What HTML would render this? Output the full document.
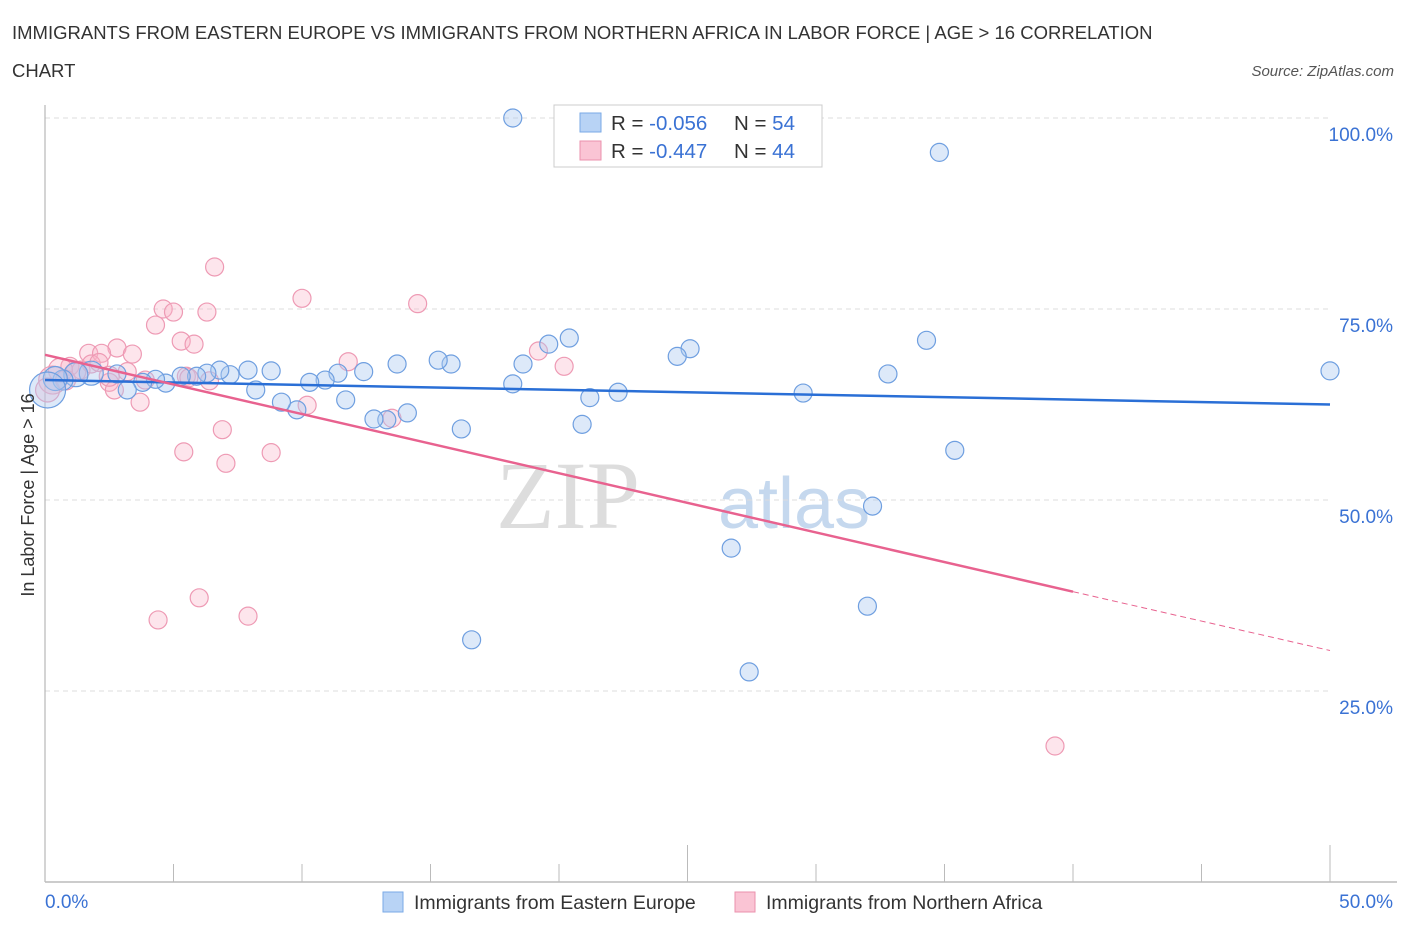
<!DOCTYPE html>
<html><head><meta charset="utf-8"><style>
body{margin:0;background:#fff;font-family:"Liberation Sans",sans-serif}
svg{display:block}
</style></head><body>
<svg id="c" width="1406" height="930" xmlns="http://www.w3.org/2000/svg">
<text x="12" y="39" font-size="18.5" fill="#333">IMMIGRANTS FROM EASTERN EUROPE VS IMMIGRANTS FROM NORTHERN AFRICA IN LABOR FORCE | AGE &gt; 16 CORRELATION</text>
<text x="12" y="77" font-size="18.5" fill="#333">CHART</text>
<text x="1394" y="76" font-size="15" fill="#555" font-style="italic" text-anchor="end">Source: ZipAtlas.com</text>
<text x="640" y="528" font-size="96" fill="#ddd" font-family="Liberation Serif,serif" text-anchor="end">ZIP</text>
<text x="718" y="528" font-size="72" fill="#c5d8ee">atlas</text>
<g id="grid"></g><g id="pts"></g><g id="lines"></g>
<text transform="translate(34,495) rotate(-90)" font-size="18" fill="#333" text-anchor="middle">In Labor Force | Age &gt; 16</text>
<g>
<rect x="554" y="105" width="268" height="62" fill="#fff" stroke="#ccc"/>
<rect x="580" y="113" width="21" height="19" fill="#b8d3f5" stroke="#7aa9e6"/>
<rect x="580" y="141" width="21" height="19" fill="#fac4d4" stroke="#eb91ad"/>
<text x="611" y="130" font-size="20.5" fill="#333">R = <tspan fill="#3a72d4">-0.056</tspan></text>
<text x="734" y="130" font-size="20.5" fill="#333">N = <tspan fill="#3a72d4">54</tspan></text>
<text x="611" y="158" font-size="20.5" fill="#333">R = <tspan fill="#3a72d4">-0.447</tspan></text>
<text x="734" y="158" font-size="20.5" fill="#333">N = <tspan fill="#3a72d4">44</tspan></text>
</g>
<g>
<rect x="383" y="892" width="20" height="20" fill="#b8d3f5" stroke="#7aa9e6"/>
<text x="414" y="909" font-size="19.5" fill="#333">Immigrants from Eastern Europe</text>
<rect x="735" y="892" width="20" height="20" fill="#fac4d4" stroke="#eb91ad"/>
<text x="766" y="909" font-size="19.5" fill="#333">Immigrants from Northern Africa</text>
</g>
</svg>
<script>
const blueX=[18.2,27.2,34.8,50,34.3,32.8,35.4,32.2,26.7,32,27.4,16.6,29.5,25.1,24.6,22.3,21.2,20.9,20.4,19.6,18.6,18.2,16.2,15.8,15.3,14.1,13.7,13.3,12.8,12.4,11.7,11.4,10.9,10.3,9.8,9.2,8.8,8.2,7.9,7.2,6.8,6.3,5.9,5.3,4.7,4.3,3.8,3.2,2.8,1.8,1.2,0.7,0.4,0.1];
const blueY=[100,100,95.5,66.9,70.9,66.5,56.5,49.2,43.7,36.1,27.5,31.7,64,69.8,68.8,64.1,63.4,59.9,71.2,70.4,67.8,65.2,59.3,67.8,68.3,61.4,67.8,60.5,60.6,66.8,63.1,66.6,65.7,65.4,61.8,62.8,66.9,64.4,67,66.4,67,66.6,66.2,66.2,65.3,65.8,65.4,64.4,66.5,66.6,66.4,65.7,65.9,64.4];
const blueR=[9,9,9,9,9,9,9,9,9,9,9,9,9,9,9,9,9,9,9,9,9,9,9,9,9,9,9,9,9,9,9,9,9,9,9,9,9,9,9,9,9,9,9,9,9,9,9,9,9,12,12,10,12,18];
const pinkX=[6.6,10,14.5,4.6,5,6.3,4.3,5.3,5.8,2.8,3.4,1.7,2.2,0.97,1.4,1.8,2.1,2.5,2.7,3.2,3.9,5.5,6.4,10.2,11.8,13.5,19.2,20.2,3.7,6.9,5.4,7.04,8.8,4.4,6,7.9,39.3,0.6,0.3,0.1,0.8,1.2,2.5,5.6];
const pinkY=[80.5,76.4,75.7,75,74.6,74.6,72.9,70.8,70.4,69.9,69.1,69.2,69.2,67.5,67,67.8,68,65.4,64.4,66.8,65.7,66.2,65.6,62.4,68.1,60.7,69.5,67.5,62.8,59.2,56.3,54.8,56.2,34.3,37.2,34.8,17.8,67,65.7,64.4,65.7,66.8,66.2,66];
const pinkR=[9,9,9,9,9,9,9,9,9,9,9,9,9,9,9,9,9,9,9,9,9,9,9,9,9,9,9,9,9,9,9,9,9,9,9,9,9,12,14,12,10,10,10,9];
const yTicks=[25,50,75,100];
const yTickLabels=["25.0%","50.0%","75.0%","100.0%"];
const xTicks=[5,10,15,20,25,30,35,40,45,50];
const xMajor=[25,50];
const blueTrend=[[0,65.7],[50,62.5]];
const pinkTrend=[[0,69],[40,38],[50,30.3]];
const sx=v=>45+v/50*1285, sy=v=>882-v/100*764;
const NS="http://www.w3.org/2000/svg";
function mk(p,t,a){const e=document.createElementNS(NS,t);for(const k in a)e.setAttribute(k,a[k]);p.appendChild(e);return e;}
const g=document.getElementById('grid'),P=document.getElementById('pts'),L=document.getElementById('lines');
yTicks.forEach((v,i)=>{
 const l=mk(g,'line',{x1:45,x2:1330,y1:sy(v),y2:sy(v),stroke:'#ddd','stroke-dasharray':'5,4'});
 
 
 const t=mk(g,'text',{x:1393,y:sy(v)+23,'font-size':19,fill:'#3a72d4','text-anchor':'end'});t.textContent=yTickLabels[i];
 
 
});
const ax=mk(g,'line',{x1:45,x2:45,y1:105,y2:882,stroke:'#aaa'});


const bx=mk(g,'line',{x1:45,x2:1397,y1:882,y2:882,stroke:'#bbb','stroke-width':1.5});


xTicks.forEach(v=>{const l=mk(g,'line',{x1:sx(v),x2:sx(v),y1:xMajor.includes(v)?845:864,y2:882,stroke:'#bbb'});
 
 });
const xl0=mk(g,'text',{x:45,y:908,'font-size':19,fill:'#3a72d4'});xl0.textContent='0.0%';


const xl1=mk(g,'text',{x:1393,y:908,'font-size':19,fill:'#3a72d4','text-anchor':'end'});xl1.textContent='50.0%';


pinkX.forEach((v,i)=>{const c=mk(P,'circle',{cx:sx(v),cy:sy(pinkY[i]),r:pinkR[i],fill:'rgba(248,180,200,0.35)',stroke:'#ee9ab4','stroke-width':1.2});
 
 });
blueX.forEach((v,i)=>{const c=mk(P,'circle',{cx:sx(v),cy:sy(blueY[i]),r:blueR[i],fill:'rgba(170,200,240,0.4)',stroke:'#6f9fe0','stroke-width':1.2});
 
 });
const bl=mk(L,'line',{x1:sx(blueTrend[0][0]),y1:sy(blueTrend[0][1]),x2:sx(blueTrend[1][0]),y2:sy(blueTrend[1][1]),stroke:'#2a6fd6','stroke-width':2.5});


const pl=mk(L,'line',{x1:sx(pinkTrend[0][0]),y1:sy(pinkTrend[0][1]),x2:sx(pinkTrend[1][0]),y2:sy(pinkTrend[1][1]),stroke:'#e8628f','stroke-width':2.5});


const pd=mk(L,'line',{x1:sx(pinkTrend[1][0]),y1:sy(pinkTrend[1][1]),x2:sx(pinkTrend[2][0]),y2:sy(pinkTrend[2][1]),stroke:'#e8628f','stroke-width':1,'stroke-dasharray':'6,4'});


</script>
</body></html>
